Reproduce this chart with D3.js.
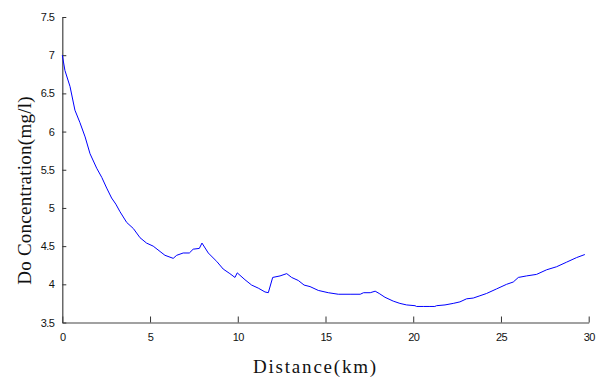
<!DOCTYPE html>
<html>
<head>
<meta charset="utf-8">
<script src="https://cdn.jsdelivr.net/npm/d3@7"></script>
<style>
  html, body { margin: 0; padding: 0; background: #fff; }
  svg { display: block; }
</style>
</head>
<body>
<svg id="chart" width="600" height="377"></svg>
<script>
// Distance along river (km)
const distance = [0, 0.15, 0.44, 0.72, 1.0, 1.30, 1.58, 1.96, 2.25, 2.53, 2.81, 3.05, 3.29, 3.67, 4.05, 4.43, 4.80, 5.18, 5.57, 5.85, 6.32, 6.52, 6.89, 7.24, 7.46, 7.81, 7.96, 8.32, 8.80, 9.17, 9.55, 9.84, 9.97, 10.41, 10.79, 11.17, 11.55, 11.74, 11.99, 12.41, 12.79, 13.07, 13.45, 13.78, 14.12, 14.59, 15.16, 15.73, 16.40, 16.98, 17.17, 17.55, 17.83, 18.06, 18.39, 18.86, 19.24, 19.62, 20.10, 20.19, 20.60, 20.95, 21.23, 21.33, 21.81, 22.28, 22.66, 23.04, 23.42, 23.80, 24.18, 24.75, 25.32, 25.70, 25.99, 26.46, 27.03, 27.60, 28.17, 28.74, 29.31, 29.78];
// DO concentration (mg/l)
const concentration = [7.00, 6.80, 6.59, 6.28, 6.12, 5.93, 5.71, 5.52, 5.40, 5.26, 5.13, 5.05, 4.95, 4.81, 4.73, 4.61, 4.54, 4.50, 4.43, 4.38, 4.34, 4.38, 4.41, 4.41, 4.46, 4.47, 4.54, 4.41, 4.30, 4.20, 4.14, 4.09, 4.15, 4.06, 3.99, 3.95, 3.90, 3.89, 4.09, 4.11, 4.14, 4.09, 4.05, 3.99, 3.97, 3.92, 3.89, 3.87, 3.87, 3.87, 3.89, 3.89, 3.91, 3.88, 3.83, 3.78, 3.75, 3.73, 3.72, 3.71, 3.71, 3.71, 3.71, 3.72, 3.73, 3.75, 3.77, 3.81, 3.82, 3.85, 3.88, 3.94, 4.00, 4.03, 4.09, 4.11, 4.13, 4.19, 4.23, 4.29, 4.35, 4.39];
const xTicks = [0, 5, 10, 15, 20, 25, 30];
const yTicks = [3.5, 4, 4.5, 5, 5.5, 6, 6.5, 7, 7.5];
const xTitle = "Distance(km)";
const yTitle = "Do Concentration(mg/l)";

const svg = d3.select("#chart");
const mLeft = 62.3, mRight = 588.7, mTop = 17, mBottom = 322.5;

const x = d3.scaleLinear().domain([0, 30]).range([mLeft, mRight]);
const y = d3.scaleLinear().domain([3.5, 7.5]).range([mBottom, mTop]);

const xAxis = d3.axisBottom(x).tickValues(xTicks).tickSizeInner(-6).tickSizeOuter(0).tickPadding(11).tickFormat(d3.format("d"));
const yAxis = d3.axisLeft(y).tickValues(yTicks).tickSizeInner(-4).tickSizeOuter(0).tickPadding(8).tickFormat(d => String(d));

const gx = svg.append("g").attr("transform", `translate(0,${mBottom})`).call(xAxis);
const gy = svg.append("g").attr("transform", `translate(${mLeft},0)`).call(yAxis);

[gx, gy].forEach(g => {
  g.select(".domain").attr("stroke", "#444").attr("stroke-width", 1.2);
  g.selectAll(".tick line").attr("stroke", "#333").attr("stroke-width", 1);
  g.selectAll(".tick text")
    .attr("fill", "#111")
    .attr("font-family", "Liberation Sans, Arial, sans-serif")
    .attr("font-size", 11)
    .attr("letter-spacing", -0.6);
});

const line = d3.line().x((d, i) => x(distance[i])).y(d => y(d));
svg.append("path")
  .datum(concentration)
  .attr("fill", "none")
  .attr("stroke", "#0000ff")
  .attr("stroke-width", 1)
  .attr("d", line);

svg.append("text")
  .attr("x", 315.5)
  .attr("y", 372.5)
  .attr("text-anchor", "middle")
  .attr("font-family", "Liberation Serif, Times New Roman, serif")
  .attr("font-size", 19)
  .attr("letter-spacing", 1.8)
  .attr("fill", "#111")
  .text(xTitle);

svg.append("text")
  .attr("transform", "translate(31,190.5) rotate(-90)")
  .attr("text-anchor", "middle")
  .attr("font-family", "Liberation Serif, Times New Roman, serif")
  .attr("font-size", 19)
  .attr("letter-spacing", 0.25)
  .attr("fill", "#111")
  .text(yTitle);
</script>
</body>
</html>
